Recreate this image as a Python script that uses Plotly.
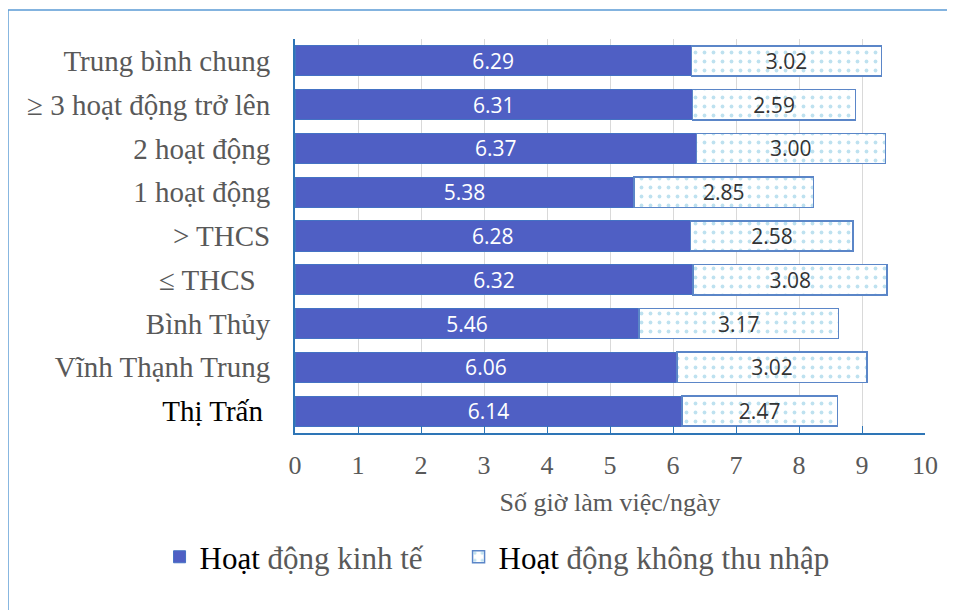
import plotly.graph_objects as go

categories = ["Trung bình chung", "≥ 3 hoạt động trở lên", "2 hoạt động", "1 hoạt động",
              "> THCS", "≤ THCS", "Bình Thủy", "Vĩnh Thạnh Trung", "Thị Trấn"]
kinh_te = [6.29, 6.31, 6.37, 5.38, 6.28, 6.32, 5.46, 6.06, 6.14]
khong_thu_nhap = [3.02, 2.59, 3.00, 2.85, 2.58, 3.08, 3.17, 3.02, 2.47]
x_ticks = [0, 1, 2, 3, 4, 5, 6, 7, 8, 9, 10]

ticktext = []
for c in categories:
    if c == "Thị Trấn":
        ticktext.append("<span style='color:#000000'>Thị Trấn </span>")
    elif c == "≤ THCS":
        ticktext.append("≤ THCS  ")
    else:
        ticktext.append(c)

fig = go.Figure()
fig.add_trace(go.Bar(
    y=categories, x=kinh_te, orientation="h",
    name="<span style='color:#000000'>Hoạt</span> động kinh tế\u00a0\u00a0\u00a0\u00a0",
    marker=dict(color="#4F5FC4", line=dict(color="#4472C4", width=1)),
    texttemplate="%{x:.2f}", textposition="inside", insidetextanchor="middle",
    constraintext="none",
    textfont=dict(family="Open Sans, Liberation Sans", size=21, color="white"),
))
fig.add_trace(go.Bar(
    y=categories, x=khong_thu_nhap, orientation="h",
    name="<span style='color:#000000'>Hoạt</span> động không thu nhập",
    marker=dict(color="white", line=dict(color="#5B86C8", width=1.5),
                pattern=dict(shape=".", fgcolor="#7EC4E0", bgcolor="white", size=9, solidity=0.14)),
    texttemplate="%{x:.2f}", textposition="inside", insidetextanchor="middle",
    constraintext="none",
    textfont=dict(family="Open Sans, Liberation Sans", size=21, color="#333333"),
))

fig.update_layout(
    barmode="stack", bargap=0.31,
    width=947, height=602,
    margin=dict(l=287, r=30, t=31, b=177),
    paper_bgcolor="white", plot_bgcolor="white",
    font=dict(family="Liberation Serif", color="#595959"),
    legend=dict(orientation="h", x=-0.215, y=-0.315, xanchor="left", yanchor="middle",
                font=dict(size=31, family="Liberation Serif", color="#595959"),
                traceorder="normal"),
    showlegend=True,
    shapes=[dict(type="rect", xref="paper", yref="paper",
                 x0=-0.4556, x1=1.3, y0=-0.7, y1=1.0736,
                 line=dict(color="#5B9BD5", width=1.5))],
)
fig.update_xaxes(range=[0, 10], tickvals=x_ticks, showgrid=True, gridcolor="#D9D9D9",
                 showline=True, linecolor="#2E75B6", linewidth=2,
                 ticks="inside", ticklen=7, tickcolor="#2E75B6",
                 ticklabelstandoff=8,
                 tickfont=dict(size=26, family="Liberation Serif", color="#595959"),
                 title=dict(text="Số giờ làm việc/ngày", standoff=14,
                            font=dict(size=26, family="Liberation Serif", color="#595959")),
                 zeroline=False)
fig.update_yaxes(categoryorder="array", categoryarray=categories[::-1],
                 tickvals=categories, ticktext=ticktext,
                 showline=True, linecolor="#2E75B6", linewidth=2,
                 tickfont=dict(size=29, family="Liberation Serif", color="#595959"),
                 ticklabelstandoff=17)

fig.write_html("out.html")
